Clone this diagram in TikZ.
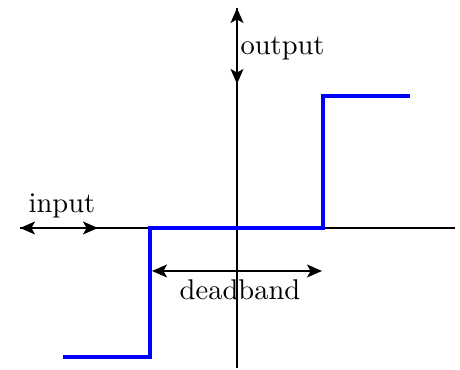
\documentclass[tikz,border=0pt]{standalone}
\usetikzlibrary{arrows.meta}
\begin{document}
\begin{tikzpicture}[x=0.375pt,y=-0.375pt,
  axis/.style={line width=0.75pt,black},
  dbl/.style={line width=0.75pt,black,{Stealth[length=5.6pt,width=4.8pt,inset=1.3pt]}-{Stealth[length=5.6pt,width=4.8pt,inset=1.3pt]}},
  curve/.style={line width=1.15pt,blue},
  lbl/.style={inner sep=0pt,font=\fontsize{10.7}{12}\selectfont}]
\useasboundingbox (0,0) rectangle (460,370);
\coordinate (axL) at (20,228);
\coordinate (axR) at (455,228);
\coordinate (ayT) at (237,8);
\coordinate (ayB) at (237,368);
\coordinate (inR) at (98,228);
\coordinate (outB) at (237,84);
\coordinate (dbL) at (152,271);
\coordinate (dbR) at (322,271);
\coordinate (c1) at (63,357);
\coordinate (c2) at (150,357);
\coordinate (c3) at (150,228);
\coordinate (c4) at (323,228);
\coordinate (c5) at (323,96);
\coordinate (c6) at (410,96);
\draw[axis] (axL) -- (axR);
\draw[axis] (ayT) -- (ayB);
\draw[curve] (c1) -- (c2) -- (c3) -- (c4) -- (c5) -- (c6);
\draw[dbl] (axL) -- (inR);
\draw[dbl] (ayT) -- (outB);
\draw[dbl] (dbL) -- (dbR);
\node[lbl,anchor=base] (tin) at (62,213) {input};
\node[lbl,anchor=base west] (tout) at (240,55) {output};
\node[lbl,anchor=base] (tdb) at (240,300) {deadband};
\end{tikzpicture}
\end{document}
